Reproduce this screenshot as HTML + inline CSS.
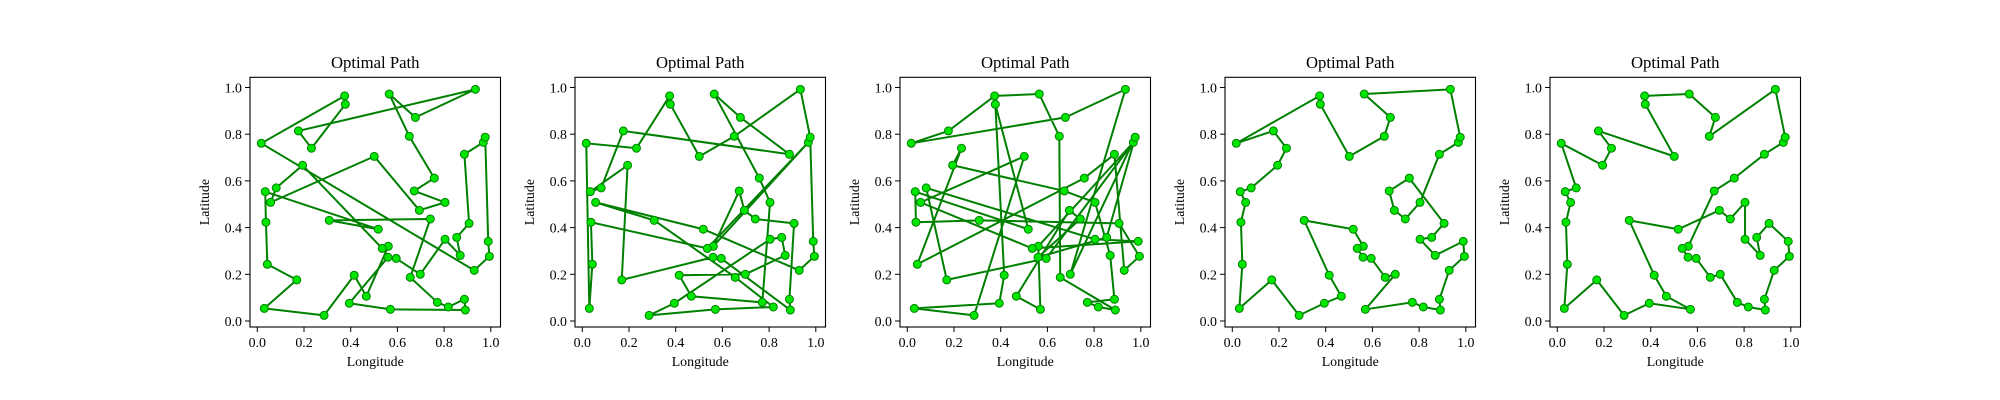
<!DOCTYPE html>
<html><head><meta charset="utf-8"><style>
html,body{margin:0;padding:0;background:#fff;}
svg{display:block;}
text{font-family:"Liberation Serif","DejaVu Serif",serif;fill:#000;}
</style></head><body>
<svg id="fig" width="2000" height="400" viewBox="0 0 2000 400" xmlns="http://www.w3.org/2000/svg"></svg>
<script>
const pointX = [0.017,0.176,0.232,0.194,0.081,0.034,0.057,0.037,0.043,0.030,0.169,0.286,0.394,0.467,0.415,0.308,0.518,0.561,0.535,0.560,0.595,0.655,0.698,0.570,0.771,0.818,0.891,0.887,0.929,0.994,0.989,0.869,0.804,0.854,0.907,0.741,0.694,0.672,0.758,0.804,0.887,0.968,0.976,0.934,0.565,0.677,0.651,0.501,0.377,0.374];
const pointY = [0.761,0.814,0.740,0.667,0.570,0.554,0.508,0.423,0.243,0.054,0.176,0.024,0.076,0.106,0.196,0.431,0.393,0.320,0.311,0.273,0.268,0.187,0.200,0.050,0.080,0.060,0.047,0.093,0.217,0.277,0.341,0.281,0.350,0.358,0.418,0.437,0.474,0.557,0.612,0.508,0.714,0.765,0.787,0.992,0.972,0.872,0.791,0.705,0.928,0.964];
const order1 = [1,50,49,3,2,44,46,45,47,39,38,40,37,48,7,5,4,19,18,14,15,12,10,11,9,8,6,17,16,36,22,25,26,28,27,24,13,20,21,23,33,32,34,35,41,42,43,31,30,29];
const order2 = [1,3,50,49,48,47,44,43,31,30,29,17,7,16,22,26,24,12,13,33,34,32,23,15,14,25,40,39,45,46,41,2,5,6,4,11,20,21,27,28,35,36,37,38,18,42,19,8,9,10];
const order3 = [1,2,50,45,47,22,27,26,25,28,32,40,38,4,3,9,39,41,29,30,35,16,8,6,17,49,15,13,10,12,48,7,19,31,33,5,11,21,42,18,24,14,37,36,20,34,43,23,44,46];
const order4 = [1,50,49,48,47,46,45,44,43,42,41,40,36,37,38,39,35,34,33,32,31,30,29,28,27,26,25,24,23,22,21,20,19,18,17,16,15,14,13,12,11,10,9,8,7,6,5,4,3,2];
const order5 = [1,4,3,2,48,49,50,45,46,47,44,43,42,41,39,38,18,19,20,21,22,23,25,26,27,28,29,30,31,35,34,32,33,40,36,37,17,16,15,14,24,13,12,11,10,9,8,7,6,5];
const tickValues = [0,0.2,0.4,0.6,0.8,1.0];
const tickLabels = ["0.0","0.2","0.4","0.6","0.8","1.0"];

const NS="http://www.w3.org/2000/svg";
const svg=document.getElementById('fig');
function mk(tag,attrs,parent){const e=document.createElementNS(NS,tag);for(const k in attrs)e.setAttribute(k,attrs[k]);(parent||svg).appendChild(e);return e;}
const orders=[order1,order2,order3,order4,order5];
const scale=233.5;
orders.forEach((ord,pi)=>{
  const L=250+pi*325, T=77.3, W=250.5, H=249.7;
  const x0=L+7.3, y0=321;
  const sx=v=>x0+v*scale, sy=v=>y0-v*scale;
  const g=mk('g',{});
  
  
  const t=mk('text',{x:L+W/2,y:68,'text-anchor':'middle','font-size':'16.7'},g);
  t.textContent='Optimal Path';
  
  
  // path
  const pts=ord.concat([ord[0]]).map(i=>sx(pointX[i-1]).toFixed(2)+','+sy(pointY[i-1]).toFixed(2)).join(' ');
  const pl=mk('polyline',{points:pts,fill:'none',stroke:'#008000','stroke-width':'2','stroke-linejoin':'round'},g);
  
  
  for(let i=0;i<pointX.length;i++){
    const c=mk('circle',{cx:sx(pointX[i]),cy:sy(pointY[i]),r:4,fill:'#00e600',stroke:'#008000','stroke-width':'1'},g);
    
    
  }
  const fr=mk('rect',{x:L,y:T,width:W,height:H,fill:'none',stroke:'#000','stroke-width':'1.1'},g);
  
  
  tickValues.forEach((v,k)=>{
    const X=sx(v);
    mk('line',{x1:X,y1:T+H,x2:X,y2:T+H+5,stroke:'#000','stroke-width':'1'},g);
    const tx=mk('text',{x:X,y:T+H+20,'text-anchor':'middle','font-size':'13.9'},g);
    tx.textContent=tickLabels[k];
    
    
    const Y=sy(v);
    mk('line',{x1:L,y1:Y,x2:L-5,y2:Y,stroke:'#000','stroke-width':'1'},g);
    const ty=mk('text',{x:L-8,y:Y+5,'text-anchor':'end','font-size':'13.9'},g);
    ty.textContent=tickLabels[k];
    
    
  });
  const xl=mk('text',{x:L+W/2,y:366,'text-anchor':'middle','font-size':'13.9'},g);
  xl.textContent='Longitude';
  
  
  const yl=mk('text',{x:0,y:0,'text-anchor':'middle','font-size':'13.9',transform:'translate('+(L-41)+','+(T+H/2)+') rotate(-90)'},g);
  yl.textContent='Latitude';
  
  
});
</script>
</body></html>
